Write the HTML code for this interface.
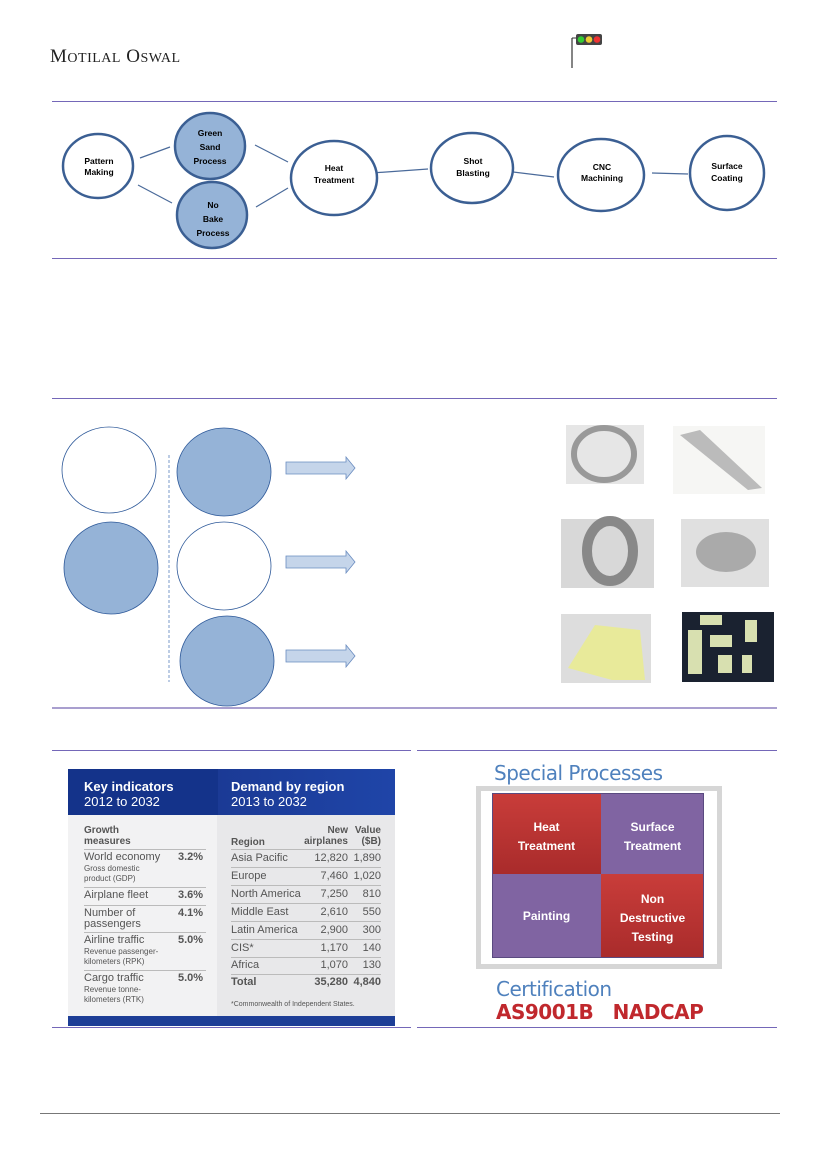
<!DOCTYPE html>
<html><head><meta charset="utf-8"><style>
*{margin:0;padding:0;box-sizing:border-box}
body{width:827px;height:1169px;position:relative;background:#fff;font-family:"Liberation Sans",sans-serif;overflow:hidden}
.a{position:absolute}
.hl{position:absolute;height:1px;background:#7467b8}
.t{position:absolute;font-size:10px;color:#555;white-space:nowrap;line-height:11px}
.r{text-align:right}
.sep{position:absolute;height:1px;background:#bbb}
</style></head><body>
<div class="a" style="left:50px;top:46px;font-family:'Liberation Serif',serif;font-size:19px;color:#222;letter-spacing:0.5px">M<span style="font-size:14px">OTILAL</span> O<span style="font-size:14px">SWAL</span></div>
<svg class="a" style="left:568px;top:32px" width="40" height="40">
<line x1="4" y1="6" x2="4" y2="36" stroke="#333" stroke-width="1.2"/>
<line x1="4" y1="6" x2="8" y2="6" stroke="#333"/>
<rect x="8" y="2" width="26" height="11" rx="2" fill="#444"/>
<circle cx="13" cy="7.5" r="3.3" fill="#3c3"/><circle cx="21" cy="7.5" r="3.3" fill="#ec3"/><circle cx="29" cy="7.5" r="3.3" fill="#e33"/>
</svg>
<div class="hl" style="left:52px;width:725px;top:101px"></div>
<div class="hl" style="left:52px;width:725px;top:258px"></div>
<div class="hl" style="left:52px;width:725px;top:398px"></div>
<div class="hl" style="left:52px;width:725px;top:707px;height:2px;background:#a99fcf"></div>
<div class="hl" style="left:52px;width:359px;top:750px"></div>
<div class="hl" style="left:417px;width:360px;top:750px"></div>
<div class="hl" style="left:52px;width:359px;top:1027px"></div>
<div class="hl" style="left:417px;width:360px;top:1027px"></div>
<div class="hl" style="left:40px;width:740px;top:1113px;background:#777"></div>

<svg class="a" style="left:0;top:0" width="827" height="1169" font-family="Liberation Sans, sans-serif" font-size="9" text-anchor="middle">
<g stroke="#4a6a9a" stroke-width="1.2">
<line x1="140" y1="158" x2="170" y2="147"/><line x1="138" y1="185" x2="172" y2="203"/>
<line x1="255" y1="145" x2="288" y2="162"/><line x1="256" y1="207" x2="288" y2="188"/>
<line x1="358" y1="174" x2="428" y2="169"/><line x1="497" y1="170" x2="554" y2="177"/>
<line x1="652" y1="173" x2="688" y2="174"/>
</g>
<g stroke="#3b5f93" stroke-width="2.5">
<ellipse cx="98" cy="166" rx="35" ry="32" fill="#fff"/>
<ellipse cx="210" cy="146" rx="35" ry="33" fill="#95b3d7"/>
<ellipse cx="212" cy="215" rx="35" ry="33" fill="#95b3d7"/>
<ellipse cx="334" cy="178" rx="43" ry="37" fill="#fff"/>
<ellipse cx="472" cy="168" rx="41" ry="35" fill="#fff"/>
<ellipse cx="601" cy="175" rx="43" ry="36" fill="#fff"/>
<ellipse cx="727" cy="173" rx="37" ry="37" fill="#fff"/>
</g>
<g fill="#000" font-weight="bold" font-size="8.5">
<text x="99" y="164">Pattern</text><text x="99" y="175">Making</text>
<text x="210" y="136">Green</text><text x="210" y="150">Sand</text><text x="210" y="164">Process</text>
<text x="213" y="208">No</text><text x="213" y="222">Bake</text><text x="213" y="236">Process</text>
<text x="334" y="171">Heat</text><text x="334" y="183">Treatment</text>
<text x="473" y="164">Shot</text><text x="473" y="176">Blasting</text>
<text x="602" y="170">CNC</text><text x="602" y="181">Machining</text>
<text x="727" y="169">Surface</text><text x="727" y="181">Coating</text>
</g>
<g stroke="#2f5a9a" stroke-width="0.8">
<ellipse cx="109" cy="470" rx="47" ry="43" fill="#fff"/>
<ellipse cx="111" cy="568" rx="47" ry="46" fill="#95b3d7"/>
<ellipse cx="224" cy="472" rx="47" ry="44" fill="#95b3d7"/>
<ellipse cx="224" cy="566" rx="47" ry="44" fill="#fff"/>
<ellipse cx="227" cy="661" rx="47" ry="45" fill="#95b3d7"/>
</g>
<line x1="169" y1="455" x2="169" y2="682" stroke="#7a9ac8" stroke-dasharray="3,2"/>
<g fill="#c5d5ea" stroke="#6a8cc0" stroke-width="0.8">
<polygon points="286,462 346,462 346,457 355,468 346,479 346,474 286,474"/>
<polygon points="286,556 346,556 346,551 355,562 346,573 346,568 286,568"/>
<polygon points="286,650 346,650 346,645 355,656 346,667 346,662 286,662"/>
</g>
<rect x="566" y="425" width="78" height="59" fill="#e6e6e6"/>
<ellipse cx="604" cy="454" rx="30" ry="26" fill="none" stroke="#999" stroke-width="6"/>
<rect x="673" y="426" width="92" height="68" fill="#f6f6f4"/>
<polygon points="680,435 700,430 762,488 748,490" fill="#bbb"/>
<rect x="561" y="519" width="93" height="69" fill="#d8d8d8"/>
<ellipse cx="610" cy="551" rx="23" ry="30" fill="none" stroke="#888" stroke-width="10"/>
<rect x="681" y="519" width="88" height="68" fill="#e0e0e0"/>
<ellipse cx="726" cy="552" rx="30" ry="20" fill="#aaa"/>
<rect x="561" y="614" width="90" height="69" fill="#ddd"/>
<polygon points="595,625 640,630 645,680 612,680 568,668" fill="#e8ea9a"/>
<rect x="682" y="612" width="92" height="70" fill="#1a2230"/>
<g fill="#d8e0b0"><rect x="688" y="630" width="14" height="44"/><rect x="710" y="635" width="22" height="12"/><rect x="718" y="655" width="14" height="18"/><rect x="745" y="620" width="12" height="22"/><rect x="742" y="655" width="10" height="18"/><rect x="700" y="615" width="22" height="10"/></g>
</svg>

<div class="a" style="left:68px;top:769px;width:327px;height:257px;background:#e8e8ea"></div>
<div class="a" style="left:68px;top:815px;width:149px;height:201px;background:#f2f2f3"></div>
<div class="a" style="left:68px;top:769px;width:150px;height:46px;background:#14338a"></div>
<div class="a" style="left:218px;top:769px;width:177px;height:46px;background:linear-gradient(90deg,#1b3a95,#1f45a8)"></div>
<div class="a" style="left:68px;top:1016px;width:327px;height:10px;background:#1d3e96"></div>
<div class="a" style="left:84px;top:779px;color:#fff;font-weight:bold;font-size:13px">Key indicators</div>
<div class="a" style="left:84px;top:794px;color:#fff;font-size:13px">2012 to 2032</div>
<div class="a" style="left:231px;top:779px;color:#fff;font-weight:bold;font-size:13px">Demand by region</div>
<div class="a" style="left:231px;top:794px;color:#fff;font-size:13px">2013 to 2032</div>
<div class="t" style="left:84px;top:825px;font-weight:bold">Growth<br>measures</div>
<div class="sep" style="left:84px;width:122px;top:849px"></div>
<div class="t" style="left:84px;top:852px;font-size:11px">World economy</div><div class="t" style="left:178px;top:852px;font-weight:bold;font-size:11px">3.2%</div>
<div class="t" style="left:84px;top:864px;font-size:8px;line-height:10px">Gross domestic<br>product (GDP)</div>
<div class="sep" style="left:84px;width:122px;top:887px"></div>
<div class="t" style="left:84px;top:890px;font-size:11px">Airplane fleet</div><div class="t" style="left:178px;top:890px;font-weight:bold;font-size:11px">3.6%</div>
<div class="sep" style="left:84px;width:122px;top:905px"></div>
<div class="t" style="left:84px;top:908px;font-size:11px;line-height:11px">Number of<br>passengers</div><div class="t" style="left:178px;top:908px;font-weight:bold;font-size:11px">4.1%</div>
<div class="sep" style="left:84px;width:122px;top:932px"></div>
<div class="t" style="left:84px;top:935px;font-size:11px">Airline traffic</div><div class="t" style="left:178px;top:935px;font-weight:bold;font-size:11px">5.0%</div>
<div class="t" style="left:84px;top:947px;font-size:8px;line-height:10px">Revenue passenger-<br>kilometers (RPK)</div>
<div class="sep" style="left:84px;width:122px;top:970px"></div>
<div class="t" style="left:84px;top:973px;font-size:11px">Cargo traffic</div><div class="t" style="left:178px;top:973px;font-weight:bold;font-size:11px">5.0%</div>
<div class="t" style="left:84px;top:985px;font-size:8px;line-height:10px">Revenue tonne-<br>kilometers (RTK)</div>

<div class="t" style="left:231px;top:837px;font-weight:bold">Region</div>
<div class="t r" style="left:280px;width:68px;top:825px;font-weight:bold">New<br>airplanes</div>
<div class="t r" style="left:350px;width:31px;top:825px;font-weight:bold">Value<br>($B)</div>
<div class="sep" style="left:231px;width:150px;top:849px"></div>
<div class="t" style="left:231px;top:853px;font-size:11px">Asia Pacific</div><div class="t r" style="left:300px;width:48px;top:853px;font-size:11px">12,820</div><div class="t r" style="left:345px;width:36px;top:853px;font-size:11px">1,890</div>
<div class="sep" style="left:231px;width:150px;top:867px"></div>
<div class="t" style="left:231px;top:871px;font-size:11px">Europe</div><div class="t r" style="left:300px;width:48px;top:871px;font-size:11px">7,460</div><div class="t r" style="left:345px;width:36px;top:871px;font-size:11px">1,020</div>
<div class="sep" style="left:231px;width:150px;top:885px"></div>
<div class="t" style="left:231px;top:889px;font-size:11px">North America</div><div class="t r" style="left:300px;width:48px;top:889px;font-size:11px">7,250</div><div class="t r" style="left:345px;width:36px;top:889px;font-size:11px">810</div>
<div class="sep" style="left:231px;width:150px;top:903px"></div>
<div class="t" style="left:231px;top:907px;font-size:11px">Middle East</div><div class="t r" style="left:300px;width:48px;top:907px;font-size:11px">2,610</div><div class="t r" style="left:345px;width:36px;top:907px;font-size:11px">550</div>
<div class="sep" style="left:231px;width:150px;top:921px"></div>
<div class="t" style="left:231px;top:925px;font-size:11px">Latin America</div><div class="t r" style="left:300px;width:48px;top:925px;font-size:11px">2,900</div><div class="t r" style="left:345px;width:36px;top:925px;font-size:11px">300</div>
<div class="sep" style="left:231px;width:150px;top:939px"></div>
<div class="t" style="left:231px;top:943px;font-size:11px">CIS*</div><div class="t r" style="left:300px;width:48px;top:943px;font-size:11px">1,170</div><div class="t r" style="left:345px;width:36px;top:943px;font-size:11px">140</div>
<div class="sep" style="left:231px;width:150px;top:957px"></div>
<div class="t" style="left:231px;top:960px;font-size:11px">Africa</div><div class="t r" style="left:300px;width:48px;top:960px;font-size:11px">1,070</div><div class="t r" style="left:345px;width:36px;top:960px;font-size:11px">130</div>
<div class="sep" style="left:231px;width:150px;top:974px"></div>
<div class="t" style="left:231px;top:977px;font-size:11px;font-weight:bold">Total</div><div class="t r" style="left:300px;width:48px;top:977px;font-size:11px;font-weight:bold">35,280</div><div class="t r" style="left:345px;width:36px;top:977px;font-size:11px;font-weight:bold">4,840</div>
<div class="t" style="left:231px;top:999px;font-size:7px">*Commonwealth of Independent States.</div>

<div class="a" style="left:494px;top:761px;font-size:20px;color:#4f81bd;font-family:'DejaVu Sans',sans-serif;letter-spacing:-0.5px">Special Processes</div>
<div class="a" style="left:476px;top:786px;width:246px;height:183px;border:5px solid #d6d6d6;background:#fff"></div>
<div class="a" style="left:492px;top:793px;width:109px;height:81px;background:linear-gradient(#c93d3a,#a92b2b)"></div>
<div class="a" style="left:601px;top:793px;width:103px;height:81px;background:#8064a2"></div>
<div class="a" style="left:492px;top:874px;width:109px;height:84px;background:#8064a2"></div>
<div class="a" style="left:601px;top:874px;width:103px;height:84px;background:linear-gradient(#c93d3a,#a92b2b)"></div>
<div class="a" style="left:492px;top:793px;width:212px;height:165px;border:1px solid #5a4a80"></div>
<div class="a" style="left:492px;top:818px;width:109px;text-align:center;color:#fff;font-weight:bold;font-size:12px;line-height:19px">Heat<br>Treatment</div>
<div class="a" style="left:601px;top:818px;width:103px;text-align:center;color:#fff;font-weight:bold;font-size:12px;line-height:19px">Surface<br>Treatment</div>
<div class="a" style="left:492px;top:909px;width:109px;text-align:center;color:#fff;font-weight:bold;font-size:12px">Painting</div>
<div class="a" style="left:601px;top:890px;width:103px;text-align:center;color:#fff;font-weight:bold;font-size:12px;line-height:19px">Non<br>Destructive<br>Testing</div>
<div class="a" style="left:496px;top:977px;font-size:20px;color:#4f81bd;font-family:'DejaVu Sans',sans-serif;letter-spacing:-0.5px">Certification</div>
<div class="a" style="left:496px;top:1000px;font-size:20px;color:#c0282d;font-weight:bold;font-family:'DejaVu Sans',sans-serif;letter-spacing:-0.5px">AS9001B&nbsp;&nbsp;&nbsp;NADCAP</div>
</body></html>
